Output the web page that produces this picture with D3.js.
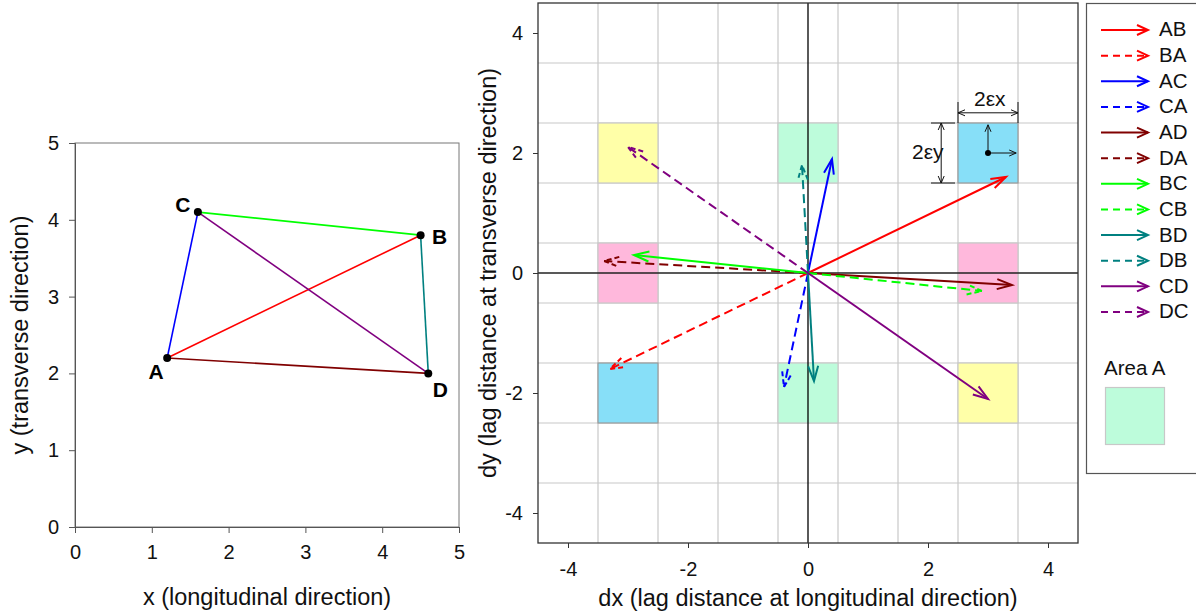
<!DOCTYPE html>
<html>
<head>
<meta charset="utf-8">
<script src="https://cdn.jsdelivr.net/npm/d3@7"></script>
<style>
  body { margin: 0; background: #fff; }
  svg { font-family: "Liberation Sans", Arial, sans-serif; }
</style>
</head>
<body>
<div class="container"></div>
<script>
// sample points
const pointNames = ["A", "B", "C", "D"];
const pointX = [1.2, 4.5, 1.6, 4.6];
const pointY = [2.2, 3.8, 4.1, 2.0];

// point pairs (from -> to) and their colours
const pairs = ["AB", "AC", "AD", "BC", "BD", "CD"];
const pairColors = ["#ff0000", "#0000ff", "#800000", "#00ff00", "#008080", "#800080"];

// lag areas: centre of square and fill
const areaX = [-3, 3, 0, 0, 3, -3, -3, 3];
const areaY = [2, -2, 2, -2, 2, -2, 0, 0];
const areaFill = ["#ffffa8", "#ffffa8", "#bdfcdb", "#bdfcdb", "#87dff8", "#87dff8", "#ffb8dc", "#ffb8dc"];
const areaStroke = ["#c8c8c8", "#c8c8c8", "#c8c8c8", "#c8c8c8", "#999", "#999", "#c8c8c8", "#c8c8c8"];

const leftTicks = [0, 1, 2, 3, 4, 5];
const rightTicks = [-4, -2, 0, 2, 4];
const gridVals = [-3.5, -2.5, -1.5, -0.5, 0.5, 1.5, 2.5, 3.5];

const container = d3.select('.container');
const svg = container.append("svg").attr("width", 1196).attr("height", 613);
const FONT = "Liberation Sans, Arial, sans-serif";

let pt = name => {
  let i = pointNames.indexOf(name);
  return [pointX[i], pointY[i]];
};

// ---------- left chart ----------
const lx = d3.scaleLinear().domain([0, 5]).range([75, 459]);
const ly = d3.scaleLinear().domain([0, 5]).range([527, 143]);
const left = svg.append("g");

left.append("rect").attr("x", lx(0)).attr("y", ly(5))
  .attr("width", lx(5) - lx(0)).attr("height", ly(0) - ly(5))
  .attr("fill", "none").attr("stroke", "#777").attr("stroke-width", 1);

let lxAxis = left.append("g").attr("transform", `translate(0,${ly(0)})`)
  .call(d3.axisBottom(lx).tickValues(leftTicks).tickSize(6).tickPadding(12).tickFormat(d => String(d)));
let lyAxis = left.append("g").attr("transform", `translate(${lx(0)},0)`)
  .call(d3.axisLeft(ly).tickValues(leftTicks).tickSize(6).tickPadding(10).tickFormat(d => String(d)));
[lxAxis, lyAxis].forEach(a => {
  a.attr("font-size", 20).attr("font-family", FONT);
  a.select(".domain").attr("stroke", "#555");
  a.selectAll(".tick line").attr("stroke", "#555");
  a.selectAll("text").attr("fill", "#111");
});

left.selectAll("line.edge").data(pairs).enter().append("line")
  .attr("class", "edge")
  .attr("x1", d => lx(pt(d[0])[0])).attr("y1", d => ly(pt(d[0])[1]))
  .attr("x2", d => lx(pt(d[1])[0])).attr("y2", d => ly(pt(d[1])[1]))
  .attr("stroke", (d, i) => pairColors[i]).attr("stroke-width", 1.6);

left.selectAll("circle").data(pointNames).enter().append("circle")
  .attr("cx", (d, i) => lx(pointX[i])).attr("cy", (d, i) => ly(pointY[i]))
  .attr("r", 4).attr("fill", "#000");

const labelOff = { A: [-11, 15], B: [19, 3], C: [-15, -6], D: [12, 18] };
left.selectAll("text.pname").data(pointNames).enter().append("text")
  .attr("class", "pname")
  .attr("x", (d, i) => lx(pointX[i]) + labelOff[d][0])
  .attr("y", (d, i) => ly(pointY[i]) + labelOff[d][1])
  .attr("text-anchor", "middle").attr("dominant-baseline", "middle")
  .attr("font-size", 21).attr("font-weight", "bold").text(d => d);

left.append("text").attr("x", 267).attr("y", 605).attr("text-anchor", "middle")
  .attr("font-size", 23.5).attr("fill", "#111").text("x (longitudinal direction)");
left.append("text").attr("transform", "translate(28,335) rotate(-90)").attr("text-anchor", "middle")
  .attr("font-size", 23.5).attr("fill", "#111").text("y (transverse direction)");

// ---------- right chart ----------
const rx = d3.scaleLinear().domain([-4.5, 4.5]).range([538, 1078]);
const ry = d3.scaleLinear().domain([-4.5, 4.5]).range([543, 3]);
const right = svg.append("g");

right.selectAll("line.vg").data(gridVals).enter().append("line")
  .attr("x1", d => rx(d)).attr("x2", d => rx(d)).attr("y1", ry(4.5)).attr("y2", ry(-4.5))
  .attr("stroke", "#c8c8c8").attr("stroke-width", 1.2);
right.selectAll("line.hg").data(gridVals).enter().append("line")
  .attr("y1", d => ry(d)).attr("y2", d => ry(d)).attr("x1", rx(-4.5)).attr("x2", rx(4.5))
  .attr("stroke", "#c8c8c8").attr("stroke-width", 1.2);

right.selectAll("rect.area").data(areaX).enter().append("rect")
  .attr("x", d => rx(d - 0.5)).attr("y", (d, i) => ry(areaY[i] + 0.5))
  .attr("width", rx(1) - rx(0)).attr("height", ry(0) - ry(1))
  .attr("fill", (d, i) => areaFill[i]).attr("stroke", (d, i) => areaStroke[i]).attr("stroke-width", 1.2);

right.append("line").attr("x1", rx(0)).attr("x2", rx(0)).attr("y1", ry(4.5)).attr("y2", ry(-4.5))
  .attr("stroke", "#000").attr("stroke-width", 1.3);
right.append("line").attr("y1", ry(0)).attr("y2", ry(0)).attr("x1", rx(-4.5)).attr("x2", rx(4.5))
  .attr("stroke", "#222").attr("stroke-width", 1.3);

right.append("rect").attr("x", rx(-4.5)).attr("y", ry(4.5))
  .attr("width", rx(4.5) - rx(-4.5)).attr("height", ry(-4.5) - ry(4.5))
  .attr("fill", "none").attr("stroke", "#333").attr("stroke-width", 1.3);

let rxAxis = right.append("g").attr("transform", `translate(0,${ry(-4.5)})`)
  .call(d3.axisBottom(rx).tickValues(rightTicks).tickSize(5).tickPadding(14).tickFormat(d => String(d)));
let ryAxis = right.append("g").attr("transform", `translate(${rx(-4.5)},0)`)
  .call(d3.axisLeft(ry).tickValues(rightTicks).tickSize(5).tickPadding(10).tickFormat(d => String(d)));
[rxAxis, ryAxis].forEach(a => {
  a.attr("font-size", 20).attr("font-family", FONT);
  a.select(".domain").remove();
  a.selectAll(".tick line").attr("stroke", "#333");
  a.selectAll("text").attr("fill", "#111");
});

right.append("text").attr("x", 808).attr("y", 606).attr("text-anchor", "middle")
  .attr("font-size", 23.5).attr("fill", "#111").text("dx (lag distance at longitudinal direction)");
right.append("text").attr("transform", "translate(496,273) rotate(-90)").attr("text-anchor", "middle")
  .attr("font-size", 23.5).attr("fill", "#111").text("dy (lag distance at transverse direction)");

// arrow helper: open V head path
let arrowHead = (x1, y1, x2, y2, len, half) => {
  let dx = x2 - x1, dy = y2 - y1, L = Math.hypot(dx, dy);
  let ux = dx / L, uy = dy / L;
  let bx = x2 - ux * len, by = y2 - uy * len;
  return `M${bx - uy * half},${by + ux * half}L${x2},${y2}L${bx + uy * half},${by - ux * half}`;
};

let vectors = [];
pairs.forEach((p, i) => {
  let a = pt(p[0]), b = pt(p[1]);
  let dx = +(b[0] - a[0]).toFixed(2), dy = +(b[1] - a[1]).toFixed(2);
  vectors.push({ name: p, dx: dx, dy: dy, color: pairColors[i], dashed: false });
  vectors.push({ name: p[1] + p[0], dx: -dx, dy: -dy, color: pairColors[i], dashed: true });
});

const arrows = right.append("g");
vectors.forEach(v => {
  let x1 = rx(0), y1 = ry(0), x2 = rx(v.dx), y2 = ry(v.dy);
  arrows.append("line").attr("x1", x1).attr("y1", y1).attr("x2", x2).attr("y2", y2)
    .attr("stroke", v.color).attr("stroke-width", 2).attr("stroke-dasharray", v.dashed ? "9,5" : null);
  arrows.append("path").attr("d", arrowHead(x1, y1, x2, y2, 15, 5))
    .attr("fill", "none").attr("stroke", v.color).attr("stroke-width", 2)
    .attr("stroke-dasharray", v.dashed ? "5,3" : null);
});

// dimension annotation on the cyan area (3, 2)
const ann = right.append("g").attr("stroke", "#111").attr("stroke-width", 1);
let smallHead = (x1, y1, x2, y2) => ann.append("path").attr("d", arrowHead(x1, y1, x2, y2, 7, 3)).attr("fill", "none");
// width 2εx
ann.append("line").attr("x1", rx(2.5)).attr("x2", rx(2.5)).attr("y1", ry(2.85)).attr("y2", ry(2.5));
ann.append("line").attr("x1", rx(3.5)).attr("x2", rx(3.5)).attr("y1", ry(2.85)).attr("y2", ry(2.5));
ann.append("line").attr("x1", rx(2.5)).attr("x2", rx(3.5)).attr("y1", ry(2.67)).attr("y2", ry(2.67));
smallHead(rx(3), ry(2.67), rx(2.5), ry(2.67));
smallHead(rx(3), ry(2.67), rx(3.5), ry(2.67));
// height 2εy
ann.append("line").attr("x1", rx(2.05)).attr("x2", rx(2.45)).attr("y1", ry(2.5)).attr("y2", ry(2.5));
ann.append("line").attr("x1", rx(2.05)).attr("x2", rx(2.45)).attr("y1", ry(1.5)).attr("y2", ry(1.5));
ann.append("line").attr("x1", rx(2.22)).attr("x2", rx(2.22)).attr("y1", ry(2.5)).attr("y2", ry(1.5));
smallHead(rx(2.22), ry(2), rx(2.22), ry(2.5));
smallHead(rx(2.22), ry(2), rx(2.22), ry(1.5));
// centre axes inside the area
ann.append("line").attr("x1", rx(3)).attr("x2", rx(3)).attr("y1", ry(2)).attr("y2", ry(2.47));
ann.append("line").attr("x1", rx(3)).attr("x2", rx(3.47)).attr("y1", ry(2)).attr("y2", ry(2));
smallHead(rx(3), ry(2), rx(3), ry(2.47));
smallHead(rx(3), ry(2), rx(3.47), ry(2));
right.append("circle").attr("cx", rx(3)).attr("cy", ry(2)).attr("r", 3).attr("fill", "#000");

right.append("text").attr("x", rx(3.03)).attr("y", ry(2.78)).attr("text-anchor", "middle")
  .attr("font-size", 21).attr("fill", "#111").text("2εx");
right.append("text").attr("x", rx(2.26)).attr("y", ry(1.9)).attr("text-anchor", "end")
  .attr("font-size", 21).attr("fill", "#111").text("2εy");

// ---------- legend ----------
const legend = svg.append("g");
legend.append("rect").attr("x", 1086.5).attr("y", 3.5).attr("width", 130).attr("height", 470)
  .attr("fill", "#fff").attr("stroke", "#555").attr("stroke-width", 1.2);
const legY = d3.scalePoint().domain(vectors.map(v => v.name)).range([30, 312]);
vectors.forEach(v => {
  let y = legY(v.name);
  legend.append("line").attr("x1", 1101).attr("x2", 1148).attr("y1", y).attr("y2", y)
    .attr("stroke", v.color).attr("stroke-width", 2).attr("stroke-dasharray", v.dashed ? "7,5" : null);
  legend.append("path").attr("d", arrowHead(1101, y, 1148, y, 11, 5))
    .attr("fill", "none").attr("stroke", v.color).attr("stroke-width", 2);
  legend.append("text").attr("x", 1159).attr("y", y + 1).attr("dominant-baseline", "middle")
    .attr("font-size", 20.5).attr("fill", "#111").text(v.name);
});
legend.append("text").attr("x", 1104).attr("y", 375).attr("font-size", 20.5).attr("fill", "#111").text("Area A");
legend.append("rect").attr("x", 1105.5).attr("y", 387.5).attr("width", 59).attr("height", 57)
  .attr("fill", "#bdfcdb").attr("stroke", "#c8c8c8").attr("stroke-width", 1.2);
</script>
</body>
</html>
